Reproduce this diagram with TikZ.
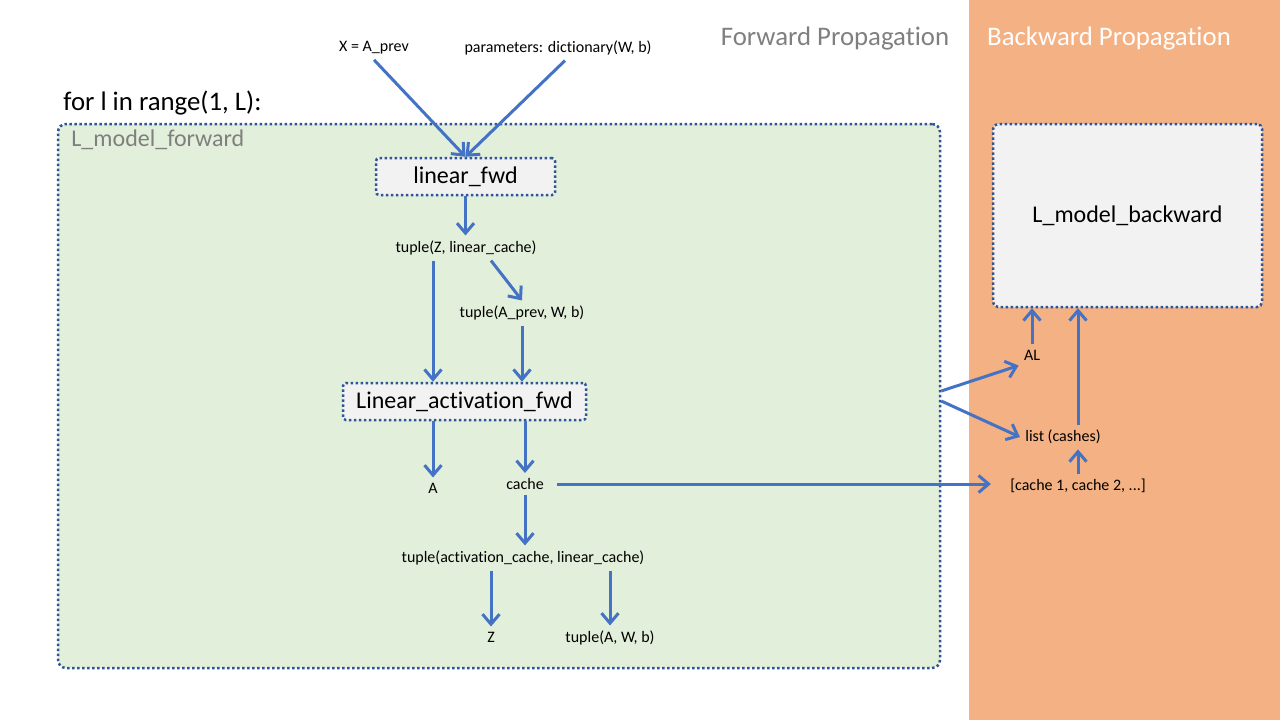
\documentclass[tikz,border=0pt]{standalone}
\usepackage{fontspec}
\setmainfont{Carlito}[Ligatures=NoCommon]
\usetikzlibrary{arrows.meta}
\definecolor{arrowblue}{HTML}{4472C4}
\definecolor{borderblue}{HTML}{2F5597}
\definecolor{fwdgreen}{HTML}{E2EFDA}
\definecolor{boxgray}{HTML}{F2F2F2}
\definecolor{bwdorange}{HTML}{F4B183}
\definecolor{titlegray}{HTML}{7F7F7F}

\begin{document}
\begin{tikzpicture}[x=0.5pt,y=-0.5pt,every node/.style={font=\fontsize{8}{9.6}\selectfont,inner sep=2.5pt},
  flow/.style={draw=arrowblue,line width=1.5pt,-{Straight Barb[length=5pt,width=8.5pt]}},
  dotted border/.style={draw=borderblue,line width=1.25pt,dash pattern=on 1.25pt off 1.25pt},
  fnbox/.style={dotted border,fill=boxgray,rounded corners=1.5pt,font=\fontsize{12}{14}\selectfont},
  heading/.style={font=\fontsize{13.4}{16}\selectfont}]
\useasboundingbox (0,0) rectangle (1280,720);
\fill[bwdorange] (969,0) rectangle (1280,720);
\node[heading,text=titlegray] at (835,38) {Forward Propagation}; \node[heading,text=white] at (1109,38) {Backward Propagation};
\node[heading,anchor=west] at (58,103) {for l in range(1, L):};
% forward loop
\node[dotted border,fill=fwdgreen,rounded corners=4pt,minimum width=441pt,minimum height=272pt] (forward) at (499,396) {};
\node[anchor=west,text=titlegray,font=\fontsize{12}{14}\selectfont] at (66,140) {L\_model\_forward};
\node (xin) at (374,48) {X = A\_prev}; \node (par) at (558,48) {parameters: dictionary(W, b)};
\node[fnbox,minimum width=89.5pt,minimum height=18.5pt] (lfwd) at (465.5,176.5) {linear\_fwd};
\node (tz) at (466,248) {tuple(Z, linear\_cache)}; \node (tap) at (522,313) {tuple(A\_prev, W, b)};
\node[fnbox,minimum width=121.5pt,minimum height=18.5pt] (lact) at (464.5,401.5) {Linear\_activation\_fwd};
\node (A) at (433,488) {A}; \node (cache) at (525,484) {cache};
\node (tac) at (523,558) {tuple(activation\_cache, linear\_cache)};
\node (Z) at (491,637) {Z}; \node (tawb) at (610,638) {tuple(A, W, b)};
% backward side
\node[fnbox,rounded corners=2.5pt,minimum width=134.5pt,minimum height=91.5pt] (lbwd) at (1127.5,215.5) {L\_model\_backward};
\node (AL) at (1032,355) {AL}; \node (lc) at (1063,437) {list (cashes)}; \node (cl) at (1078,486) {[cache 1, cache 2, ...]};
\draw[flow] (xin.south) -- (lfwd.north); \draw[flow] ([xshift=3.5pt]par.south) -- (lfwd.north);
\draw[flow] (lfwd.south) -- (lfwd.south |- tz.north);
\draw[flow] (tz.south -| A.north) -- (lact.north -| A.north); \draw[flow] ([xshift=12.5pt]tz.south) -- (tap.north);
\draw[flow] (tap.south) -- (tap.south |- lact.north);
\draw[flow] (lact.south -| A.north) -- (A.north); \draw[flow] (lact.south -| cache.north) -- (cache.north);
\draw[flow] (cache.south) -- (cache.south |- tac.north);
\draw[flow] (tac.south -| Z.north) -- (Z.north); \draw[flow] (tac.south -| tawb.north) -- (tawb.north);
\draw[flow,shorten <=4pt,shorten >=7pt] (cache.east) -- (cache.east -| cl.west);
\draw[flow] ([yshift=2.5pt]forward.east) -- (AL.south west); \draw[flow] ([yshift=-2.5pt]forward.east) -- (lc.west);
\draw[flow] (AL.north) -- (AL.north |- lbwd.south); \draw[flow] (cl.north) -- (cl.north |- lc.south);
\draw[flow] (lc.north -| cl.north) -- (lbwd.south -| cl.north);
\end{tikzpicture}
\end{document}
